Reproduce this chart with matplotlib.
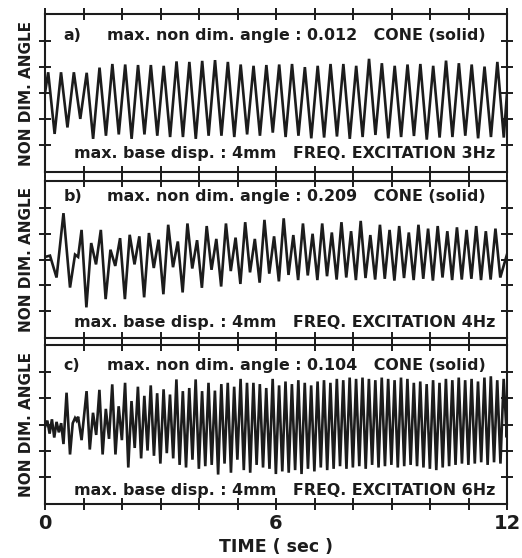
import numpy as np
import matplotlib.pyplot as plt

# -----------------------------
# data
# -----------------------------

# a) 3 Hz excitation: one peak / trough per cycle
a_freq = 3.0
a_start = 0.083
a_pre_t = [0.0]
a_pre_v = [0.0]
a_peaks = [0.80, 0.80, 0.80, 0.78, 0.98, 1.12, 1.10, 1.08, 1.08, 1.05,
           1.22, 1.20, 1.24, 1.27, 1.20, 1.10, 1.05, 1.08, 1.10, 1.12,
           1.00, 1.05, 1.12, 1.12, 1.05, 1.32, 1.15, 1.05, 1.10, 1.12,
           1.05, 1.25, 1.15, 1.10, 1.02, 1.20]
a_troughs = [-1.58, -1.33, -1.00, -1.77, -1.65, -1.60, -1.77, -1.60, -1.65, -1.70,
             -1.70, -1.77, -1.65, -1.65, -1.70, -1.60, -1.65, -1.53, -1.70, -1.65,
             -1.75, -1.72, -1.68, -1.77, -1.70, -1.62, -1.75, -1.70, -1.66, -1.80,
             -1.72, -1.70, -1.65, -1.75, -1.70, -1.72]
a_end = 0.0

# b) 4 Hz excitation, transient first
b_freq = 4.0
b_start = 0.95
b_pre_t = [0.0, 0.13, 0.30, 0.48, 0.65, 0.78, 0.86]
b_pre_v = [0.10, 0.15, -0.70, 1.80, -1.09, 0.19, 0.10]
b_peaks = [1.15, 0.64, 1.15, 0.38, 0.83, 0.96, 0.90, 1.03, 0.77, 1.35,
           0.70, 1.40, 0.75, 1.30, 0.80, 1.40, 0.85, 1.45, 0.80, 1.54,
           0.90, 1.60, 0.95, 1.40, 1.00, 1.40, 1.05, 1.45, 1.10, 1.50,
           0.95, 1.35, 1.15, 1.30, 1.05, 1.35, 1.20, 1.30, 1.10, 1.25,
           1.15, 1.30, 1.10, 1.20]
b_troughs = [-1.86, -0.19, -1.54, -0.25, -1.54, -0.19, -1.47, -0.33, -1.35, -0.30,
             -1.28, -0.35, -1.10, -0.40, -1.05, -0.45, -0.95, -0.50, -0.90, -0.55,
             -0.85, -0.60, -0.80, -0.62, -0.80, -0.65, -0.78, -0.70, -0.80, -0.72,
             -0.78, -0.75, -0.82, -0.72, -0.80, -0.75, -0.82, -0.70, -0.80, -0.78,
             -0.75, -0.80, -0.78, -0.70]
b_end = 0.2

# c) 6 Hz excitation, transient first
c_freq = 6.0
c_start = 1.08
c_pre_t = [0.0, 0.06, 0.12, 0.18, 0.24, 0.30, 0.36, 0.42, 0.48, 0.56,
           0.65, 0.72, 0.78, 0.82, 0.86, 0.95]
c_pre_v = [-0.10, 0.15, -0.35, 0.20, -0.50, 0.10, -0.30, 0.05, -0.75, 1.22,
           -1.15, 0.05, 0.25, 0.15, 0.30, -0.60]
c_peaks = [1.28, 0.45, 1.33, 0.60, 1.54, 0.70, 1.60, 0.90, 1.45, 1.10,
           1.50, 1.20, 1.35, 1.15, 1.73, 1.28, 1.40, 1.73, 1.28, 1.60,
           1.30, 1.55, 1.60, 1.45, 1.75, 1.60, 1.60, 1.55, 1.40, 1.75,
           1.50, 1.65, 1.55, 1.70, 1.60, 1.50, 1.65, 1.70, 1.60, 1.75,
           1.70, 1.80, 1.75, 1.80, 1.75, 1.70, 1.80, 1.75, 1.70, 1.80,
           1.75, 1.60, 1.65, 1.55, 1.70, 1.60, 1.75, 1.70, 1.80, 1.70,
           1.75, 1.65, 1.80, 1.85, 1.70, 1.75]
c_troughs = [-0.96, -0.40, -1.15, -0.55, -1.15, -0.60, -1.65, -0.90, -1.30, -1.00,
             -1.20, -1.50, -1.10, -1.30, -1.55, -1.65, -1.35, -1.70, -1.60, -1.55,
             -1.92, -1.50, -1.85, -1.35, -1.75, -1.85, -1.55, -1.65, -1.70, -1.90,
             -1.80, -1.85, -1.75, -1.90, -1.70, -1.80, -1.65, -1.75, -1.70, -1.60,
             -1.70, -1.65, -1.60, -1.70, -1.55, -1.65, -1.60, -1.55, -1.65, -1.60,
             -1.55, -1.60, -1.65, -1.70, -1.75, -1.65, -1.60, -1.55, -1.50, -1.55,
             -1.50, -1.45, -1.55, -1.45, -1.50, -0.50]
c_end = 0.1

labels = ["a)", "b)", "c)"]
max_angle = ["0.012", "0.209", "0.104"]
freq_text = ["3Hz", "4Hz", "6Hz"]
x_ticklabels = {0: "0", 6: "6", 12: "12"}


def zigzag(t0, freq, peaks, troughs, pre_t, pre_v, v_end):
    n = len(peaks)
    tp = t0 + np.arange(n) / freq
    t = np.empty(2 * n)
    v = np.empty(2 * n)
    t[0::2] = tp
    t[1::2] = tp + 0.5 / freq
    v[0::2] = peaks
    v[1::2] = troughs
    return (np.concatenate([pre_t, t, [12.0]]),
            np.concatenate([pre_v, v, [v_end]]))


series = [
    zigzag(a_start, a_freq, a_peaks, a_troughs, a_pre_t, a_pre_v, a_end),
    zigzag(b_start, b_freq, b_peaks, b_troughs, b_pre_t, b_pre_v, b_end),
    zigzag(c_start, c_freq, c_peaks, c_troughs, c_pre_t, c_pre_v, c_end),
]

# -----------------------------
# figure
# -----------------------------
W, H = 522, 558
fig = plt.figure(figsize=(W / 100, H / 100), dpi=100)
ink = "#1c1c1c"

# panel boxes in pixels: (top, bottom)
boxes = [(14, 172), (181, 338), (345, 504)]
left_px, right_px = 45, 507
top_text_y = [0.867, 0.90, 0.874]
bot_text_y = [0.12, 0.10, 0.088]
fs = 11.4

for i, (top, bot) in enumerate(boxes):
    ax = fig.add_axes([left_px / W, 1 - bot / H, (right_px - left_px) / W, (bot - top) / H])
    t, v = series[i]
    ax.plot(t, v, color=ink, lw=1.9, solid_joinstyle="miter")
    ax.set_xlim(0, 12)
    ax.set_ylim(-3.05, 3.05)
    ax.set_xticks(range(13))
    ax.set_yticks([-2, -1, 0, 1, 2])
    ax.tick_params(direction="inout", length=9, width=1.4, color=ink,
                   top=True, right=True, labelleft=False, labelbottom=False)
    for s in ax.spines.values():
        s.set_linewidth(1.5)
        s.set_color(ink)

    ax.text(0.04, top_text_y[i], labels[i], transform=ax.transAxes,
            fontsize=fs, fontweight="bold", color=ink, va="center")
    ax.text(0.135, top_text_y[i],
            "max. non dim. angle : " + max_angle[i] + "   CONE (solid)",
            transform=ax.transAxes, fontsize=fs, fontweight="bold", color=ink, va="center")
    ax.text(0.063, bot_text_y[i],
            "max. base disp. : 4mm   FREQ. EXCITATION " + freq_text[i],
            transform=ax.transAxes, fontsize=fs, fontweight="bold", color=ink, va="center")

    fig.text(27 / W, 1 - (top + bot) / 2 / H, "NON DIM. ANGLE", rotation=90,
             fontsize=11, fontweight="bold", color=ink, ha="center", va="center")

    if i == 2:
        ax.tick_params(labelbottom=True, labelsize=14, pad=3)
        ax.set_xticklabels([x_ticklabels.get(k, "") for k in range(13)],
                           fontweight="bold", color=ink)

fig.text(276 / W, 1 - 547 / H, "TIME ( sec )", fontsize=12.5, fontweight="bold",
         color=ink, ha="center", va="center")

fig.savefig("out.png", dpi=100, facecolor="white")
